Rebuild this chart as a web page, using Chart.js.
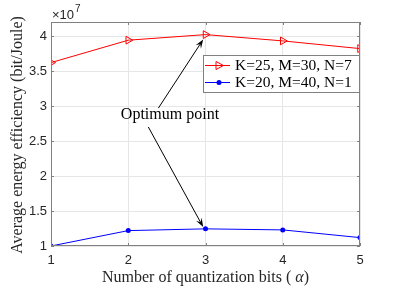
<!DOCTYPE html>
<html>
<head>
<meta charset="utf-8">
<script src="https://cdn.jsdelivr.net/npm/chart.js@4"></script>
<style>
html,body{margin:0;padding:0;background:#fff;}
#wrap{width:398px;height:287px;}
</style>
</head>
<body>
<div id="wrap"><canvas id="c" width="398" height="287"></canvas></div>
<script>
// ---- data (efficiency values in units of 1e7 bit/Joule) ----
const bits = [1, 2, 3, 4, 5];
const seriesA = [3.62, 3.94, 4.02, 3.93, 3.82];   // K=25, M=30, N=7
const seriesB = [1.00, 1.22, 1.245, 1.23, 1.12];  // K=20, M=40, N=1
const yTicks = [1, 1.5, 2, 2.5, 3, 3.5, 4];
const xTicks = [1, 2, 3, 4, 5];
const labelA = 'K=25, M=30, N=7';
const labelB = 'K=20, M=40, N=1';
const xTitleParts = ['Number of quantization bits ( ', '\u03B1', ')'];
const yTitle = 'Average energy efficiency (bit/Joule)';
const expLabel = '\u00D710';
const expPower = '7';
const noteText = 'Optimum point';
// annotation anchors in data coordinates
const noteAt = {x: 2.54, y: 2.88};
const arrows = [
  {from: {x: 2.39, y: 2.97}, to: {x: 2.97, y: 3.95}},
  {from: {x: 2.26, y: 2.70}, to: {x: 2.97, y: 1.27}}
];

const SERIF = '"Liberation Serif", "Times New Roman", serif';
const SANS = '"Liberation Sans", Arial, sans-serif';

function arrow(ctx, x1, y1, x2, y2) {
  const ang = Math.atan2(y2 - y1, x2 - x1);
  const L = 9, W = 3.2;
  ctx.beginPath();
  ctx.moveTo(x1, y1);
  ctx.lineTo(x2 - L * 0.6 * Math.cos(ang), y2 - L * 0.6 * Math.sin(ang));
  ctx.stroke();
  ctx.beginPath();
  ctx.moveTo(x2, y2);
  ctx.lineTo(x2 - L * Math.cos(ang) + W * Math.sin(ang), y2 - L * Math.sin(ang) - W * Math.cos(ang));
  ctx.lineTo(x2 - L * 0.6 * Math.cos(ang), y2 - L * 0.6 * Math.sin(ang));
  ctx.lineTo(x2 - L * Math.cos(ang) - W * Math.sin(ang), y2 - L * Math.sin(ang) + W * Math.cos(ang));
  ctx.closePath();
  ctx.fill();
}

const decor = {
  id: 'decor',
  afterDatasetsDraw(chart) {
    const ctx = chart.ctx, a = chart.chartArea;
    const xs = chart.scales.x, ys = chart.scales.y;
    ctx.save();
    // box
    ctx.strokeStyle = '#808080';
    ctx.lineWidth = 1;
    ctx.strokeRect(Math.round(a.left) + 0.5, Math.round(a.top) + 0.5, Math.round(a.right - a.left) - 1, Math.round(a.bottom - a.top) - 1);
    // inner ticks
    ctx.beginPath();
    yTicks.forEach(v => {
      const p = Math.round(ys.getPixelForValue(v)) + 0.5;
      ctx.moveTo(a.left, p); ctx.lineTo(a.left + 3, p);
      ctx.moveTo(a.right, p); ctx.lineTo(a.right - 3, p);
    });
    xTicks.forEach(v => {
      const p = Math.round(xs.getPixelForValue(v)) + 0.5;
      ctx.moveTo(p, a.bottom); ctx.lineTo(p, a.bottom - 3);
      ctx.moveTo(p, a.top); ctx.lineTo(p, a.top + 3);
    });
    ctx.stroke();

    // arrows
    ctx.strokeStyle = '#000';
    ctx.fillStyle = '#000';
    ctx.lineWidth = 1;
    arrows.forEach(r => {
      arrow(ctx, xs.getPixelForValue(r.from.x), ys.getPixelForValue(r.from.y),
                 xs.getPixelForValue(r.to.x), ys.getPixelForValue(r.to.y));
    });
    // note text
    ctx.font = '16px ' + SERIF;
    ctx.textAlign = 'center';
    ctx.textBaseline = 'middle';
    ctx.fillStyle = '#000';
    ctx.fillText(noteText, xs.getPixelForValue(noteAt.x), ys.getPixelForValue(noteAt.y));

    // legend
    const lx = 203, ly = 55, lw = 157, lh = 38;
    ctx.fillStyle = '#fff';
    ctx.fillRect(lx, ly, lw, lh);
    ctx.strokeStyle = '#808080';
    ctx.strokeRect(lx + 0.5, ly + 0.5, lw - 1, lh - 1);
    const entries = [
      {label: labelA, color: '#ff0000', y: ly + 10.5, marker: 'tri'},
      {label: labelB, color: '#0000ff', y: ly + 27.5, marker: 'dot'}
    ];
    entries.forEach(e => {
      ctx.strokeStyle = e.color;
      ctx.lineWidth = 1;
      ctx.beginPath();
      ctx.moveTo(lx + 2, e.y); ctx.lineTo(lx + 27, e.y);
      ctx.stroke();
      const mx = lx + 16;
      if (e.marker === 'tri') {
        ctx.beginPath();
        ctx.moveTo(mx + 4.5, e.y);
        ctx.lineTo(mx - 3, e.y - 4);
        ctx.lineTo(mx - 3, e.y + 4);
        ctx.closePath();
        ctx.stroke();
      } else {
        ctx.fillStyle = e.color;
        ctx.beginPath();
        ctx.arc(mx, e.y, 2.5, 0, Math.PI * 2);
        ctx.fill();
      }
      ctx.fillStyle = '#000';
      ctx.font = '15.5px ' + SERIF;
      ctx.textAlign = 'left';
      ctx.textBaseline = 'middle';
      ctx.fillText(e.label, lx + 32, e.y + 0.5);
    });

    // axis titles
    ctx.fillStyle = '#262626';
    ctx.textBaseline = 'middle';
    // x title with italic alpha
    const fonts = ['16px ' + SERIF, 'italic 16px ' + SERIF, '16px ' + SERIF];
    let widths = xTitleParts.map((t, i) => { ctx.font = fonts[i]; return ctx.measureText(t).width; });
    let total = widths.reduce((s, w) => s + w, 0);
    let cx = (a.left + a.right) / 2 - total / 2;
    ctx.textAlign = 'left';
    xTitleParts.forEach((t, i) => { ctx.font = fonts[i]; ctx.fillText(t, cx, 278); cx += widths[i]; });

    ctx.font = '16px ' + SERIF;
    ctx.textAlign = 'center';
    ctx.save();
    ctx.translate(18, (a.top + a.bottom) / 2 + 1);
    ctx.rotate(-Math.PI / 2);
    ctx.fillText(yTitle, 0, 0);
    ctx.restore();

    // exponent
    ctx.font = '13px ' + SANS;
    ctx.textAlign = 'left';
    ctx.textBaseline = 'alphabetic';
    ctx.fillStyle = '#262626';
    ctx.fillText(expLabel, a.left + 1, 19);
    const w = ctx.measureText(expLabel).width;
    ctx.font = '10px ' + SANS;
    ctx.fillText(expPower, a.left + 1 + w + 1, 12);
    ctx.restore();
  }
};

new Chart(document.getElementById('c'), {
  type: 'line',
  data: {
    datasets: [
      {
        label: labelA,
        data: bits.map((b, i) => ({x: b, y: seriesA[i]})),
        borderColor: '#ff0000',
        backgroundColor: 'rgba(0,0,0,0)',
        borderWidth: 1,
        pointStyle: 'triangle',
        rotation: 90,
        pointRadius: 4.5,
        pointBorderColor: '#ff0000',
        pointBorderWidth: 1,
        pointBackgroundColor: 'rgba(0,0,0,0)',
        tension: 0
      },
      {
        label: labelB,
        data: bits.map((b, i) => ({x: b, y: seriesB[i]})),
        borderColor: '#0000ff',
        backgroundColor: '#0000ff',
        borderWidth: 1,
        pointStyle: 'circle',
        pointRadius: 2.5,
        pointBorderWidth: 0,
        pointBackgroundColor: '#0000ff',
        tension: 0
      }
    ]
  },
  options: {
    responsive: false,
    animation: false,
    devicePixelRatio: 1,
    layout: {padding: {top: 22, right: 38, left: 0, bottom: 0}},
    plugins: {legend: {display: false}, tooltip: {enabled: false}},
    scales: {
      x: {
        type: 'linear', min: 1, max: 5,
        afterFit(s) { s.height = 41; },
        afterBuildTicks(s) { s.ticks = xTicks.map(v => ({value: v})); },
        grid: {color: '#e6e6e6', drawTicks: false},
        border: {display: false},
        ticks: {padding: 7, color: '#262626', font: {family: SANS, size: 13}, maxRotation: 0, callback: v => String(v)}
      },
      y: {
        type: 'linear', min: 1, max: 4.2,
        afterFit(s) { s.width = 51; },
        afterBuildTicks(s) { s.ticks = yTicks.map(v => ({value: v})); },
        grid: {color: '#e6e6e6', drawTicks: false},
        border: {display: false},
        ticks: {padding: 4, color: '#262626', font: {family: SANS, size: 13}, callback: v => String(v)}
      }
    }
  },
  plugins: [decor]
});
</script>
</body>
</html>
